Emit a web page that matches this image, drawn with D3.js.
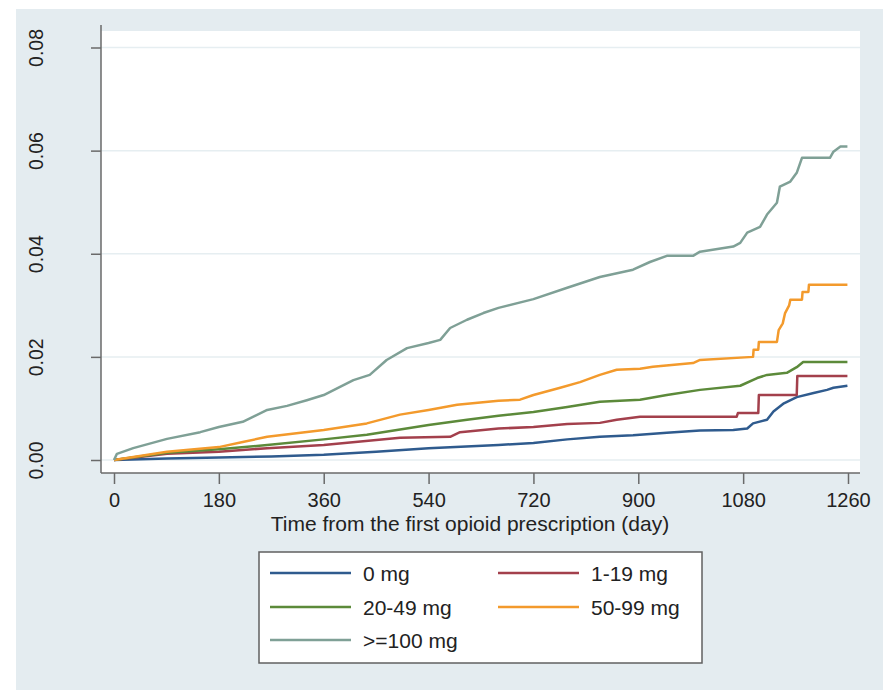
<!DOCTYPE html>
<html><head><meta charset="utf-8">
<script src="https://cdn.jsdelivr.net/npm/d3@7"></script>
<style>
html,body{margin:0;padding:0;background:#ffffff;}
svg{display:block;font-family:"Liberation Sans",Arial,sans-serif;}
</style>
</head><body>
<svg id="chart" width="890" height="690"></svg>
<script>
// ---- data ----
const xTicks = [0, 180, 360, 540, 720, 900, 1080, 1260];
const yTicks = [0, 0.02, 0.04, 0.06, 0.08];
const yTickLabels = ["0.00", "0.02", "0.04", "0.06", "0.08"];
const xTitle = "Time from the first opioid prescription (day)";
const seriesNames = ["0 mg", "1-19 mg", "20-49 mg", "50-99 mg", ">=100 mg"];
const seriesColors = ["#2f5b8e", "#a3404c", "#5c8a3a", "#f39a2c", "#7fa096"];

const days0 = [0, 91, 180, 270, 360, 450, 540, 660, 720, 778, 834, 891, 949, 1006, 1063, 1087, 1097, 1121, 1132, 1150, 1172, 1201, 1224, 1235, 1259];
const vals0 = [0, 0.0003, 0.0005, 0.0007, 0.0010, 0.0016, 0.0023, 0.0029, 0.0033, 0.0040, 0.0045, 0.0048, 0.0053, 0.0057, 0.0058, 0.0061, 0.0071, 0.0078, 0.0094, 0.0110, 0.0122, 0.0130, 0.0136, 0.0140, 0.0144];

const days1 = [0, 91, 180, 263, 360, 491, 577, 594, 660, 720, 778, 834, 863, 903, 1069, 1071, 1106, 1107, 1172, 1173, 1259];
const vals1 = [0, 0.0012, 0.0016, 0.0023, 0.0029, 0.0043, 0.0045, 0.0054, 0.0061, 0.0064, 0.0070, 0.0072, 0.0078, 0.0084, 0.0084, 0.0091, 0.0091, 0.0126, 0.0126, 0.0163, 0.0163];

const days2 = [0, 91, 180, 263, 360, 434, 540, 606, 660, 720, 778, 834, 903, 949, 1006, 1075, 1104, 1121, 1155, 1172, 1183, 1259];
const vals2 = [0, 0.0014, 0.0021, 0.0029, 0.0040, 0.0049, 0.0068, 0.0078, 0.0086, 0.0093, 0.0103, 0.0113, 0.0117, 0.0126, 0.0136, 0.0144, 0.0159, 0.0165, 0.0169, 0.0180, 0.0190, 0.0190];

const days3 = [0, 91, 180, 221, 263, 360, 434, 491, 540, 589, 660, 697, 720, 766, 800, 834, 863, 903, 925, 994, 1006, 1097, 1098, 1106, 1107, 1138, 1141, 1148, 1152, 1159, 1161, 1181, 1182, 1192, 1193, 1259];
const vals3 = [0, 0.0016, 0.0025, 0.0035, 0.0045, 0.0058, 0.0071, 0.0088, 0.0097, 0.0107, 0.0115, 0.0117, 0.0126, 0.0140, 0.0151, 0.0165, 0.0175, 0.0177, 0.0181, 0.0188, 0.0194, 0.0200, 0.0214, 0.0214, 0.0229, 0.0229, 0.0252, 0.0265, 0.0285, 0.0300, 0.0311, 0.0311, 0.0326, 0.0326, 0.0340, 0.0340];

const days4 = [0, 5, 33, 91, 148, 180, 221, 263, 297, 331, 360, 388, 411, 439, 468, 503, 540, 560, 577, 606, 634, 660, 720, 778, 834, 891, 920, 949, 994, 1006, 1063, 1075, 1087, 1109, 1121, 1138, 1143, 1161, 1172, 1181, 1229, 1235, 1247, 1259];
const vals4 = [0, 0.0012, 0.0023, 0.0041, 0.0054, 0.0064, 0.0074, 0.0097, 0.0105, 0.0116, 0.0126, 0.0142, 0.0155, 0.0165, 0.0194, 0.0217, 0.0227, 0.0233, 0.0256, 0.0272, 0.0285, 0.0295, 0.0312, 0.0334, 0.0355, 0.0369, 0.0384, 0.0396, 0.0396, 0.0404, 0.0414, 0.0421, 0.0441, 0.0452, 0.0476, 0.0499, 0.0530, 0.0540, 0.0557, 0.0586, 0.0586, 0.0598, 0.0608, 0.0608];

const seriesDays = [days0, days1, days2, days3, days4];
const seriesVals = [vals0, vals1, vals2, vals3, vals4];

// ---- layout ----
const svg = d3.select("#chart");
const bg = "#e4ecf0";
const textColor = "#222222";
const plotL = 101, plotR = 860, plotT = 31, plotB = 473;

svg.append("rect").attr("x", 16).attr("y", 9).attr("width", 867).attr("height", 681).attr("fill", bg);
svg.append("rect").attr("x", plotL).attr("y", plotT).attr("width", plotR - plotL).attr("height", plotB - plotT).attr("fill", "#ffffff");

const x = d3.scaleLinear().domain([0, 1260]).range([114, 848]);
const y = d3.scaleLinear().domain([0, 0.08]).range([460, 47.5]);

// gridlines
svg.append("g").selectAll("line").data(yTicks).join("line")
  .attr("x1", plotL).attr("x2", plotR)
  .attr("y1", d => y(d)).attr("y2", d => y(d))
  .attr("stroke", "#e6eef1").attr("stroke-width", 1.5);

// series
const line = d3.line().x(d => x(d[0])).y(d => y(d[1])).curve(d3.curveLinear);
seriesNames.forEach((name, i) => {
  const pts = seriesDays[i].map((d, j) => [d, seriesVals[i][j]]);
  svg.append("path").datum(pts).attr("d", line)
    .attr("fill", "none").attr("stroke", seriesColors[i])
    .attr("stroke-width", 2.5).attr("stroke-linejoin", "round");
});

// axes
const axisColor = "#6a6a6a";
const xAxis = svg.append("g").attr("transform", `translate(0,${plotB})`)
  .call(d3.axisBottom(x).tickValues(xTicks).tickSize(11).tickSizeOuter(0).tickPadding(9).tickFormat(d => String(d)));
xAxis.select(".domain").remove();
xAxis.selectAll(".tick line").attr("stroke", axisColor).attr("stroke-width", 1.5);
xAxis.selectAll(".tick text").attr("font-size", 20).attr("fill", textColor).attr("font-family", "Liberation Sans, Arial, sans-serif");

const yAxis = svg.append("g").attr("transform", `translate(${plotL},0)`)
  .call(d3.axisLeft(y).tickValues(yTicks).tickSize(10).tickSizeOuter(0).tickFormat((d, i) => yTickLabels[i]));
yAxis.select(".domain").remove();
yAxis.selectAll(".tick line").attr("stroke", axisColor).attr("stroke-width", 1.5);
yAxis.selectAll(".tick text")
  .attr("font-size", 19.5).attr("fill", textColor).attr("font-family", "Liberation Sans, Arial, sans-serif")
  .attr("text-anchor", "middle").attr("dy", 0)
  .attr("transform", "translate(-58,0) rotate(-90)")
  .attr("x", 0).attr("y", 0);

// axis lines
svg.append("line").attr("x1", plotL).attr("x2", plotL).attr("y1", plotT - 6).attr("y2", plotB)
  .attr("stroke", axisColor).attr("stroke-width", 1.5);
svg.append("line").attr("x1", plotL).attr("x2", plotR).attr("y1", plotB).attr("y2", plotB)
  .attr("stroke", axisColor).attr("stroke-width", 1.5);

// x title
svg.append("text").attr("x", 470).attr("y", 531)
  .attr("text-anchor", "middle").attr("font-size", 21).attr("fill", textColor).text(xTitle);

// legend
const lg = svg.append("g");
lg.append("rect").attr("x", 259).attr("y", 552).attr("width", 443).attr("height", 111)
  .attr("fill", "#ffffff").attr("stroke", "#606060").attr("stroke-width", 1.5);
const colX = [270, 498];
const rowY = [573, 607, 640];
seriesNames.forEach((name, i) => {
  const cx = colX[i % 2], cy = rowY[Math.floor(i / 2)];
  lg.append("line").attr("x1", cx).attr("x2", cx + 81).attr("y1", cy).attr("y2", cy)
    .attr("stroke", seriesColors[i]).attr("stroke-width", 2.5);
  lg.append("text").attr("x", cx + 93).attr("y", cy + 7.5).attr("font-size", 21).attr("fill", textColor).text(name);
});
</script>
</body></html>
